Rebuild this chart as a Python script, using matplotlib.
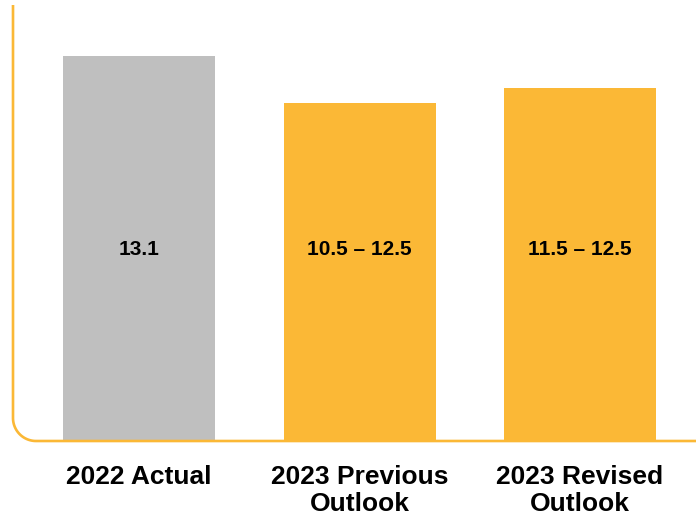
import numpy as np
import matplotlib.pyplot as plt
from matplotlib.lines import Line2D

plt.rcParams['font.family'] = ['Liberation Sans', 'DejaVu Sans']

categories = ["2022 Actual", "2023 Previous\nOutlook", "2023 Revised\nOutlook"]
low = [13.1, 10.5, 11.5]
high = [13.1, 12.5, 12.5]
labels = ["13.1", "10.5 \u2013 12.5", "11.5 \u2013 12.5"]

gray = "#BFBFBF"
orange = "#FBB836"
colors = [gray, orange, orange]

W, H = 696, 518
fig = plt.figure(figsize=(W / 100, H / 100), dpi=100)

# axes placed in pixels: left edge x=13, baseline y=441, top y=5
left_px, base_px, top_px = 13, 441, 5
ax = fig.add_axes([left_px / W, 1 - base_px / H, 1 - left_px / W, (base_px - top_px) / H])

# bar height = single value or midpoint of the outlook range
heights = [(lo + hi) / 2 for lo, hi in zip(low, high)]
x = np.arange(len(categories))
ax.bar(x, heights, width=0.69, color=colors, zorder=2)

for xi, lab in zip(x, labels):
    ax.text(xi, 6.5, lab, ha='center', va='center', fontsize=15,
            fontweight='bold', color='black')

ax.set_xlim(-0.573, 2.527)
ax.set_ylim(0, 14.83)
ax.set_xticks(x)
ax.set_xticklabels(categories, fontsize=19, fontweight='bold', linespacing=1.17)
ax.tick_params(axis='x', length=0, pad=17)
ax.set_yticks([])
for s in ax.spines.values():
    s.set_visible(False)

# orange axis line with a rounded bottom-left corner
r = 23
theta = np.linspace(np.pi, 1.5 * np.pi, 30)
cx, cy = left_px + r, base_px - r
arc_x = cx + r * np.cos(theta)
arc_y = cy - r * np.sin(theta)
px = np.concatenate([[left_px], arc_x, [W]])
py = np.concatenate([[top_px], arc_y, [base_px]])
fig.add_artist(Line2D(px / W, 1 - py / H, transform=fig.transFigure,
                      color=orange, lw=1.9, solid_capstyle='butt', zorder=5))

fig.savefig("out.png", dpi=100)
